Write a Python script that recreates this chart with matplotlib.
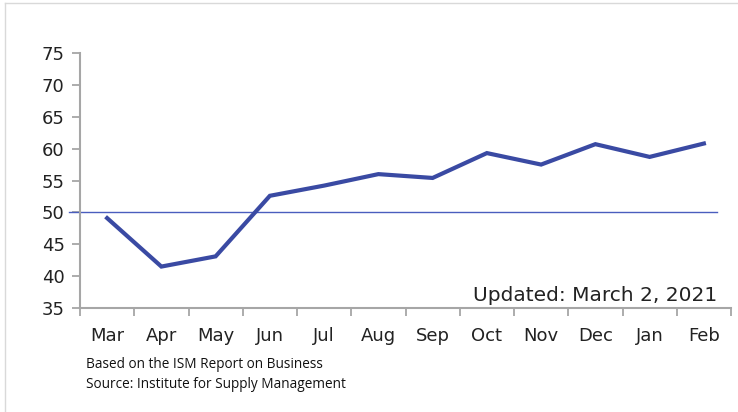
import matplotlib
matplotlib.use("Agg")
import matplotlib.pyplot as plt
from matplotlib.lines import Line2D
import numpy as np

months = ["Mar", "Apr", "May", "Jun", "Jul", "Aug", "Sep", "Oct", "Nov", "Dec", "Jan", "Feb"]
pmi = [49.1, 41.5, 43.1, 52.6, 54.2, 56.0, 55.4, 59.3, 57.5, 60.7, 58.7, 60.8]
yticks = [35, 40, 45, 50, 55, 60, 65, 70, 75]
threshold = 50

fig = plt.figure(figsize=(7.38, 4.12), dpi=100)
ax = fig.add_axes([80/738, 1-308/412, 651/738, 255/412])

x = np.arange(len(months))
ax.plot(x, pmi, color="#3A4AA3", lw=3.0, solid_joinstyle="miter", zorder=3)
ax.plot([-0.7, 11.24], [threshold, threshold], color="#4A5DBE", lw=1.0, clip_on=False, zorder=2)

ax.set_xlim(-0.5, len(months) - 0.5)
ax.set_ylim(35, 75)
ax.set_yticks(yticks)
ax.set_xticks(x)
ax.set_xticklabels(months)
ax.set_xticks(np.arange(-0.5, len(months) + 0.5, 1), minor=True)
ax.tick_params(axis="x", which="major", length=0, pad=14, labelsize=13, labelcolor="#222222")
ax.tick_params(axis="x", which="minor", length=6, width=1.3, color="#A6A6A6", direction="out")
ax.tick_params(axis="y", length=6, width=1.3, color="#A6A6A6", pad=5, labelsize=13, labelcolor="#222222")
for s in ["top", "right"]:
    ax.spines[s].set_visible(False)
for s in ["left", "bottom"]:
    ax.spines[s].set_color("#A6A6A6")
    ax.spines[s].set_linewidth(1.5)

for lab in ax.get_xticklabels() + ax.get_yticklabels():
    lab.set_family("DejaVu Sans")

ax.text(11.24, 36.1, "Updated: March 2, 2021", ha="right", va="baseline",
        fontsize=14.5, color="#222222", family="DejaVu Sans")

fig.text(86/738, 1-364/412, "Based on the ISM Report on Business", fontsize=9.8,
         family="Open Sans", color="#111111", va="center", ha="left")
fig.text(86/738, 1-384/412, "Source: Institute for Supply Management", fontsize=9.8,
         family="Open Sans", color="#111111", va="center", ha="left")

# outer frame (left and top visible)
fig.add_artist(Line2D([5/738, 5/738], [0, 1-3/412], transform=fig.transFigure, color="#D9D9D9", lw=1))
fig.add_artist(Line2D([5/738, 1], [1-3/412, 1-3/412], transform=fig.transFigure, color="#D9D9D9", lw=1))

fig.savefig("out.png", dpi=100)
